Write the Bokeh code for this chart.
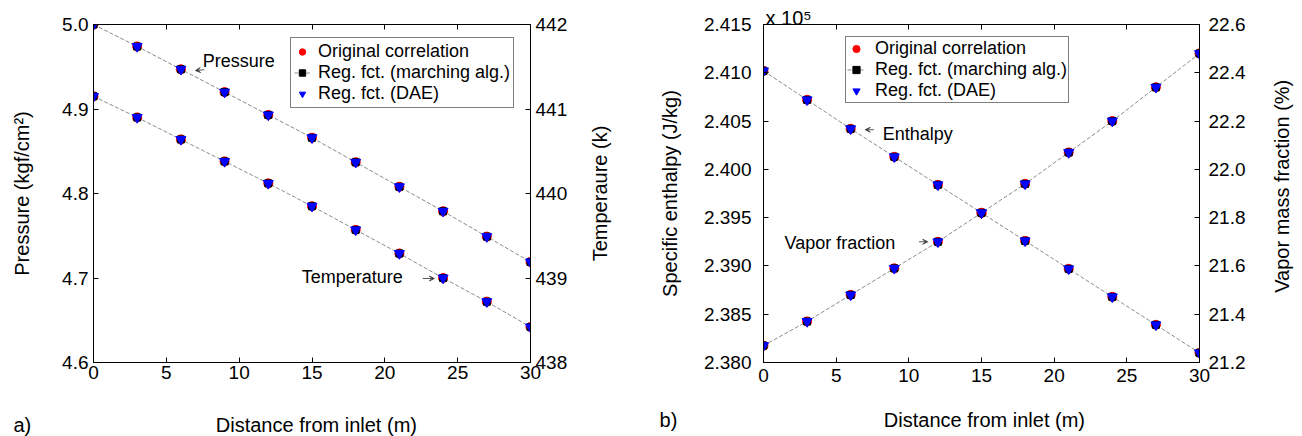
import math
from bokeh.plotting import figure
from bokeh.models import (LinearAxis, Range1d, FixedTicker, PrintfTickFormatter,
                          Label, Arrow, VeeHead, Legend, LegendItem)
from bokeh.layouts import row
from bokeh.embed import file_html
from bokeh.resources import INLINE

FONT = "Liberation Sans"

# ---- data ----
distance = [0, 3, 6, 9, 12, 15, 18, 21, 24, 27, 30]
pressure = [5.000, 4.974, 4.947, 4.920, 4.893, 4.866, 4.837, 4.808, 4.779, 4.749, 4.719]
temperature = [441.15, 440.90, 440.64, 440.38, 440.12, 439.85, 439.57, 439.29, 439.00, 438.72, 438.42]
enthalpy_e5 = [2.4102, 2.4072, 2.4042, 2.4013, 2.3984, 2.3955, 2.3926, 2.3897, 2.3868, 2.3839, 2.3810]
vapor_fraction = [21.27, 21.37, 21.48, 21.59, 21.70, 21.82, 21.94, 22.07, 22.20, 22.34, 22.48]

x_ticks = [0, 5, 10, 15, 20, 25, 30]
pressure_ticks = [4.6, 4.7, 4.8, 4.9, 5.0]
temperature_ticks = [438, 439, 440, 441, 442]
enthalpy_ticks = [2.380, 2.385, 2.390, 2.395, 2.400, 2.405, 2.410, 2.415]
vapor_ticks = [21.2, 21.4, 21.6, 21.8, 22.0, 22.2, 22.4, 22.6]

legend_labels = ["Original correlation", "Reg. fct. (marching alg.)", "Reg. fct. (DAE)"]
x_label = "Distance from inlet (m)"


def style_axis(ax, ticks, fmt, tick_standoff=5, label_standoff=10):
    ax.ticker = FixedTicker(ticks=ticks)
    ax.formatter = PrintfTickFormatter(format=fmt)
    ax.major_tick_in = 5
    ax.major_tick_out = 0
    ax.minor_tick_line_color = None
    ax.axis_line_color = "black"
    ax.major_tick_line_color = "black"
    ax.major_label_text_font = FONT
    ax.major_label_text_font_size = "19px"
    ax.major_label_text_color = "black"
    ax.major_label_standoff = tick_standoff
    ax.axis_label_text_font = FONT
    ax.axis_label_text_font_size = "20px"
    ax.axis_label_text_font_style = "normal"
    ax.axis_label_text_color = "black"
    ax.axis_label_standoff = label_standoff


def top_axis(p):
    ax = LinearAxis(ticker=FixedTicker(ticks=x_ticks), major_label_text_font_size="0px",
                    major_label_text_color=None, major_label_standoff=0,
                    major_tick_in=5, major_tick_out=0,
                    minor_tick_line_color=None, axis_line_color="black")
    p.add_layout(ax, "above")


def series(p, x, y, rng=None):
    kw = {} if rng is None else {"y_range_name": rng}
    ln = p.line(x, y, line_color="#8a8a8a", line_dash="4 2", line_width=1, **kw)
    c = p.scatter(x, y, marker="circle", size=9, fill_color="red", line_color="red", **kw)
    s = p.scatter(x, y, marker="square", size=7, fill_color="black", line_color="black", **kw)
    t = p.scatter(x, y, marker="inverted_triangle", size=10, fill_color="blue", line_color="blue", **kw)
    return ln, c, s, t


def add_legend(p, rends, loc, pad, glyph_w, standoff):
    ln, c, s, t = rends
    leg = Legend(items=[LegendItem(label=legend_labels[0], renderers=[c]),
                        LegendItem(label=legend_labels[1], renderers=[ln, s]),
                        LegendItem(label=legend_labels[2], renderers=[t])],
                 location=loc)
    leg.label_text_font = FONT
    leg.label_text_font_size = "18px"
    leg.label_text_color = "black"
    leg.glyph_width = glyph_w
    leg.glyph_height = 21
    leg.label_height = 21
    leg.label_standoff = standoff
    leg.spacing = 0
    leg.padding = pad
    leg.margin = 0
    leg.border_line_color = "black"
    leg.border_line_width = 1
    leg.background_fill_alpha = 1
    p.add_layout(leg)


def make_label(x, y, text, size="18px", baseline="middle", align="left", angle=0.0, rng=None):
    kw = {} if rng is None else {"y_range_name": rng}
    return Label(x=x, y=y, text=text, text_font=FONT, text_font_size=size,
                 text_color="black", text_baseline=baseline, text_align=align,
                 angle=angle, **kw)


def arrow(p, x0, y0, x1, y1):
    p.add_layout(Arrow(end=VeeHead(size=5, line_color="#555555", line_width=1),
                       x_start=x0, y_start=y0, x_end=x1, y_end=y1,
                       line_color="#555555", line_width=1))


def base_fig(**kw):
    p = figure(width=651, height=436, output_backend="svg", toolbar_location=None, **kw)
    p.grid.visible = False
    p.outline_line_color = "black"
    p.outline_line_alpha = 1
    p.background_fill_color = "white"
    p.border_fill_color = "white"
    return p


# ---------------- panel a ----------------
p1 = base_fig(x_range=Range1d(0, 30), y_range=Range1d(4.6, 5.0),
              y_axis_label="Pressure (kgf/cm\u00b2)",
              min_border_left=93, min_border_right=121, min_border_top=18, min_border_bottom=74)
p1.extra_y_ranges = {"temp": Range1d(438, 442)}
style_axis(p1.xaxis[0], x_ticks, "%d", tick_standoff=3)
style_axis(p1.yaxis[0], pressure_ticks, "%.1f", tick_standoff=5, label_standoff=26)
ax_t = LinearAxis(y_range_name="temp")
style_axis(ax_t, temperature_ticks, "%d", tick_standoff=5)
p1.add_layout(ax_t, "right")
top_axis(p1)

r_p = series(p1, distance, pressure)
r_t = series(p1, distance, temperature, "temp")
add_legend(p1, r_p, (197, 254), 3, 16, 8)

p1.add_layout(make_label(7.5, 4.957, "Pressure"))
arrow(p1, 7.6, 4.9465, 7.0, 4.9455)
p1.add_layout(make_label(14.3, 4.7006, "Temperature"))
arrow(p1, 22.6, 4.6994, 23.4, 4.6994)
p1.add_layout(make_label(34.8, 440.0, "Temperaure (k)", size="20px", align="center",
                         angle=math.pi / 2, rng="temp"), "right")
p1.add_layout(make_label(15.3, 4.5256, x_label, size="20px", baseline="alphabetic", align="center"), "below")
p1.add_layout(make_label(-5.5, 4.5256, "a)", size="20px", baseline="alphabetic"), "below")

# ---------------- panel b ----------------
p2 = base_fig(x_range=Range1d(0, 30), y_range=Range1d(2.380, 2.415),
              y_axis_label="Specific enthalpy (J/kg)",
              min_border_left=112, min_border_right=103, min_border_top=24, min_border_bottom=69)
p2.extra_y_ranges = {"vap": Range1d(21.2, 22.6)}
style_axis(p2.xaxis[0], x_ticks, "%d", tick_standoff=6)
style_axis(p2.yaxis[0], enthalpy_ticks, "%.3f", tick_standoff=12, label_standoff=20)
ax_v = LinearAxis(y_range_name="vap")
style_axis(ax_v, vapor_ticks, "%.1f", tick_standoff=9)
p2.add_layout(ax_v, "right")
top_axis(p2)

r_h = series(p2, distance, enthalpy_e5)
r_v = series(p2, distance, vapor_fraction, "vap")
add_legend(p2, r_h, (82, 259), 1, 18, 10)

p2.add_layout(make_label(8.2, 2.4037, "Enthalpy"))
arrow(p2, 7.6, 2.4041, 7.0, 2.4041)
p2.add_layout(make_label(1.45, 2.3924, "Vapor fraction"))
arrow(p2, 10.7, 2.3925, 11.3, 2.3925)
p2.add_layout(make_label(35.71, 21.93, "Vapor mass fraction (%)", size="20px", align="center",
                         angle=math.pi / 2, rng="vap"), "right")
p2.add_layout(make_label(0.14, 2.41569, "x 10\u2075", size="20px", baseline="alphabetic"), "above")
p2.add_layout(make_label(15.2, 2.37401, x_label, size="20px", baseline="alphabetic", align="center"), "below")
p2.add_layout(make_label(-7.15, 2.37401, "b)", size="20px", baseline="alphabetic"), "right")

layout = row(p1, p2)
open("out.html", "w").write(file_html(layout, INLINE))
